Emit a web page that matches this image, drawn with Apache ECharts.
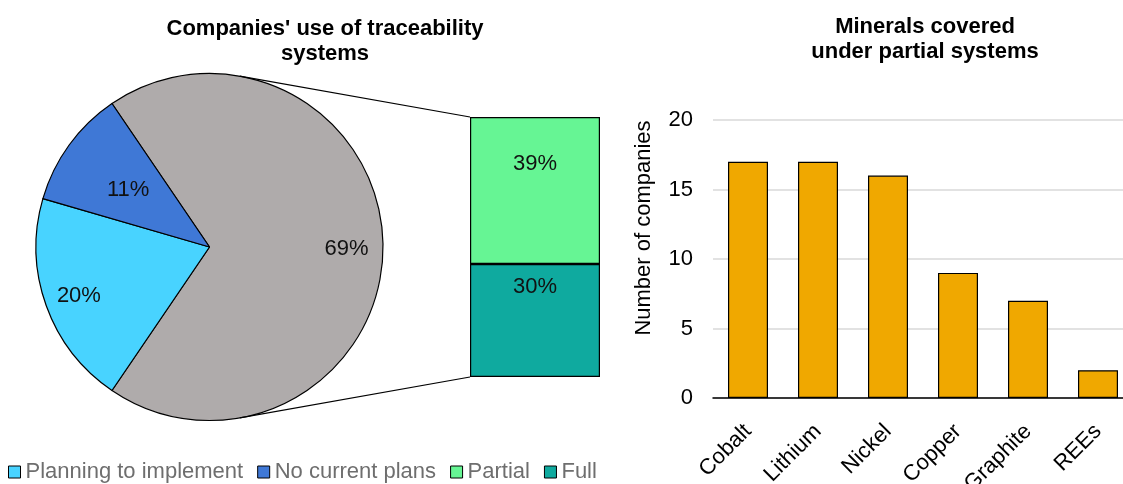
<!DOCTYPE html>
<html>
<head>
<meta charset="utf-8">
<script src="https://cdn.jsdelivr.net/npm/echarts@6/dist/echarts.min.js"></script>
<style>
  html, body { margin: 0; padding: 0; background: #fff; }
  #chart { width: 1123px; height: 484px; }
</style>
</head>
<body>
<div id="chart"></div>
<script>
// Share of companies by traceability status (pie) and the split of those with a system (bar)
const pieNames = ['Using a system', 'Planning to implement', 'No current plans'];
const pieValues = [69, 20, 11];
const pieColors = ['#AFABAB', '#48D3FF', '#3F78D6'];

const splitNames = ['Full', 'Partial'];
const splitValues = [30, 39];
const splitColors = ['#0FAA9F', '#66F594'];

// Minerals covered under partial systems
const minerals = ['Cobalt', 'Lithium', 'Nickel', 'Copper', 'Graphite', 'REEs'];
const mineralCounts = [17, 17, 16, 9, 7, 2];
const countTicks = { min: 0, max: 20, interval: 5 };

const FONT = 'Liberation Sans, Arial, sans-serif';

// pie geometry
const PIE_CX = 209.5, PIE_CY = 247, PIE_R = 173.5;
const pieTotal = pieValues.reduce((a, b) => a + b, 0);
// the first slice is centred on the right-hand side
const pieStart = pieValues[0] / pieTotal * 180;
// radial position of each slice's label, as a fraction of the radius
const labelRadius = [0.79, 0.8, 0.58];

function sliceMidAngle(i) {
  let cum = 0;
  for (let k = 0; k < i; k++) cum += pieValues[k];
  return (pieStart - (cum + pieValues[i] / 2) / pieTotal * 360) * Math.PI / 180;
}

const chart = echarts.init(document.getElementById('chart'), null, { renderer: 'canvas' });

const option = {
  animation: false,
  textStyle: { fontFamily: FONT },
  title: [
    {
      text: "Companies' use of traceability\nsystems",
      left: 320, top: 11, textAlign: 'center',
      textStyle: { fontSize: 22, fontWeight: 'bold', color: '#000', lineHeight: 25, fontFamily: FONT }
    },
    {
      text: 'Minerals covered\nunder partial systems',
      left: 920, top: 9, textAlign: 'center',
      textStyle: { fontSize: 22, fontWeight: 'bold', color: '#000', lineHeight: 25, fontFamily: FONT }
    }
  ],
  legend: {
    data: ['Planning to implement', 'No current plans', 'Partial', 'Full'],
    left: 8, top: 461, padding: 0,
    icon: 'rect', itemWidth: 12, itemHeight: 12, itemGap: 14,
    itemStyle: { borderColor: '#000', borderWidth: 1 },
    textStyle: { fontSize: 22, color: '#6E6E6E', fontFamily: FONT },
    selectedMode: false
  },
  grid: [
    { left: 470, top: 117, width: 130, height: 260, outerBoundsMode: 'none' },
    { left: 713, top: 120, width: 420, height: 278, outerBoundsMode: 'none' }
  ],
  xAxis: [
    { gridIndex: 0, type: 'category', data: ['split'], show: false },
    {
      gridIndex: 1, type: 'category', data: minerals,
      axisLine: { lineStyle: { color: '#000', width: 1.5 } },
      axisTick: { show: false },
      axisLabel: { rotate: 45, fontSize: 22, color: '#000', margin: 30, fontFamily: FONT, interval: 0 }
    }
  ],
  yAxis: [
    { gridIndex: 0, type: 'value', min: 0, max: pieValues[0], show: false },
    {
      gridIndex: 1, type: 'value', min: countTicks.min, max: countTicks.max, interval: countTicks.interval,
      name: 'Number of companies', nameLocation: 'middle', nameGap: 58, nameRotate: 90,
      nameTextStyle: { fontSize: 22, color: '#000', padding: [0, 0, 0, 62], fontFamily: FONT },
      axisLine: { show: false }, axisTick: { show: false },
      axisLabel: { fontSize: 22, color: '#000', margin: 20, fontFamily: FONT },
      splitLine: { lineStyle: { color: '#D9D9D9', width: 1.5 } }
    }
  ],
  series: [
    {
      type: 'pie',
      center: [PIE_CX, PIE_CY], radius: PIE_R,
      startAngle: pieStart, clockwise: true,
      silent: true,
      data: pieNames.map((n, i) => ({
        name: n, value: pieValues[i],
        itemStyle: { color: pieColors[i], borderColor: '#000', borderWidth: 1.2 }
      })),
      label: {
        show: true, position: 'inside', fontSize: 22, color: '#111', fontFamily: FONT,
        formatter: p => Math.round(p.value) + '%'
      },
      labelLine: { show: false },
      labelLayout: p => {
        const a = sliceMidAngle(p.dataIndex);
        const f = labelRadius[p.dataIndex];
        return {
          x: PIE_CX + f * PIE_R * Math.cos(a),
          y: PIE_CY - f * PIE_R * Math.sin(a) + 2,
          align: 'center', verticalAlign: 'middle'
        };
      }
    },
    ...splitNames.map((n, i) => ({
      type: 'bar', name: n, stack: 'split',
      xAxisIndex: 0, yAxisIndex: 0, barWidth: '100%',
      silent: true,
      data: [splitValues[i]],
      itemStyle: { color: splitColors[i], borderColor: '#000', borderWidth: 1.2 },
      label: {
        show: true, position: 'insideTop', distance: i === 0 ? 12 : 36,
        fontSize: 22, lineHeight: 22, color: '#111', fontFamily: FONT,
        formatter: p => p.value + '%'
      }
    })),
    {
      type: 'bar', name: 'Minerals',
      xAxisIndex: 1, yAxisIndex: 1, barWidth: 40,
      silent: true,
      data: mineralCounts,
      itemStyle: { color: '#F0A800', borderColor: '#000', borderWidth: 1.2 }
    }
  ]
};

chart.setOption(option);

// connector lines from the split bar's corners, tangent to the pie
function tangentPoint(px, py, upper) {
  const dx = px - PIE_CX, dy = py - PIE_CY;
  const d = Math.sqrt(dx * dx + dy * dy);
  const base = Math.atan2(dy, dx);
  const alpha = Math.acos(PIE_R / d);
  const t = upper ? base - alpha : base + alpha;
  return [PIE_CX + PIE_R * Math.cos(t), PIE_CY + PIE_R * Math.sin(t)];
}
const rect = chart.getModel().getComponent('grid', 0).coordinateSystem.getRect();
const yTop = chart.convertToPixel({ yAxisIndex: 0 }, splitValues[0] + splitValues[1]);
const yBottom = chart.convertToPixel({ yAxisIndex: 0 }, 0);
const tTop = tangentPoint(rect.x, yTop, true);
const tBottom = tangentPoint(rect.x, yBottom, false);
chart.setOption({
  graphic: [
    { type: 'line', silent: true, z: 10, shape: { x1: tTop[0], y1: tTop[1], x2: rect.x, y2: yTop }, style: { stroke: '#000', lineWidth: 1.2 } },
    { type: 'line', silent: true, z: 10, shape: { x1: tBottom[0], y1: tBottom[1], x2: rect.x, y2: yBottom }, style: { stroke: '#000', lineWidth: 1.2 } }
  ]
});
</script>
</body>
</html>
